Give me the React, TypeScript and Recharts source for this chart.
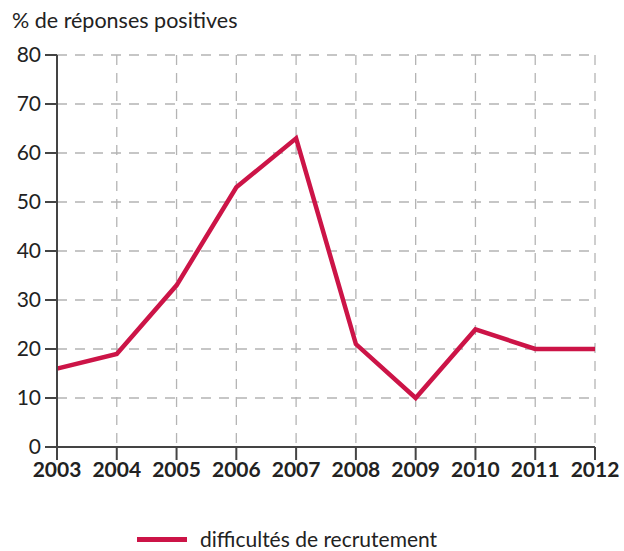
import React from 'react';
import { LineChart, Line, XAxis, YAxis, CartesianGrid } from 'recharts';

const years = ['2003', '2004', '2005', '2006', '2007', '2008', '2009', '2010', '2011', '2012'];
const recruitment = [16, 19, 33, 53, 63, 21, 10, 24, 20, 20];
const yTicks = [0, 10, 20, 30, 40, 50, 60, 70, 80];

const LINE_COLOR = '#cc1447';
const AXIS_COLOR = '#444';
const FONT = 'Lato, "Open Sans", sans-serif';

const data = years.map((year, i) => ({ year, value: recruitment[i] }));

const App: React.FC = () => {
  return (
    <div style={{ position: 'absolute', left: 0, top: 0, width: 624, height: 551, background: '#fff', fontFamily: FONT }}>
      <div style={{ position: 'absolute', left: 12, top: 8, fontSize: 21.5, lineHeight: '24px', color: '#222' }}>
        % de réponses positives
      </div>
      <LineChart width={624} height={551} data={data} margin={{ top: 55, right: 29, left: 0, bottom: 74 }}>
        <CartesianGrid stroke="#b4b4b4" strokeDasharray="10 8" strokeWidth={1.3} />
        <XAxis
          dataKey="year"
          height={30}
          padding={{ left: 0, right: 0 }}
          interval={0}
          tickSize={13}
          tickMargin={2}
          stroke={AXIS_COLOR}
          strokeWidth={2}
          tick={{ fill: '#222', fontSize: 21, fontWeight: 700, fontFamily: FONT }}
        />
        <YAxis
          domain={[0, 80]}
          ticks={yTicks}
          width={57}
          tickSize={12}
          tickMargin={4}
          stroke={AXIS_COLOR}
          strokeWidth={2}
          tick={{ fill: '#222', fontSize: 21, fontFamily: FONT }}
        />
        <Line
          type="linear"
          dataKey="value"
          stroke={LINE_COLOR}
          strokeWidth={4.5}
          strokeLinejoin="miter"
          dot={false}
          isAnimationActive={false}
        />
      </LineChart>
      <div style={{ position: 'absolute', left: 137, top: 528, height: 22, display: 'flex', alignItems: 'center' }}>
        <div style={{ width: 50, height: 5, background: LINE_COLOR, marginRight: 13 }} />
        <span style={{ fontSize: 21, lineHeight: '22px', color: '#222' }}>difficultés de recrutement</span>
      </div>
    </div>
  );
};

export default App;
